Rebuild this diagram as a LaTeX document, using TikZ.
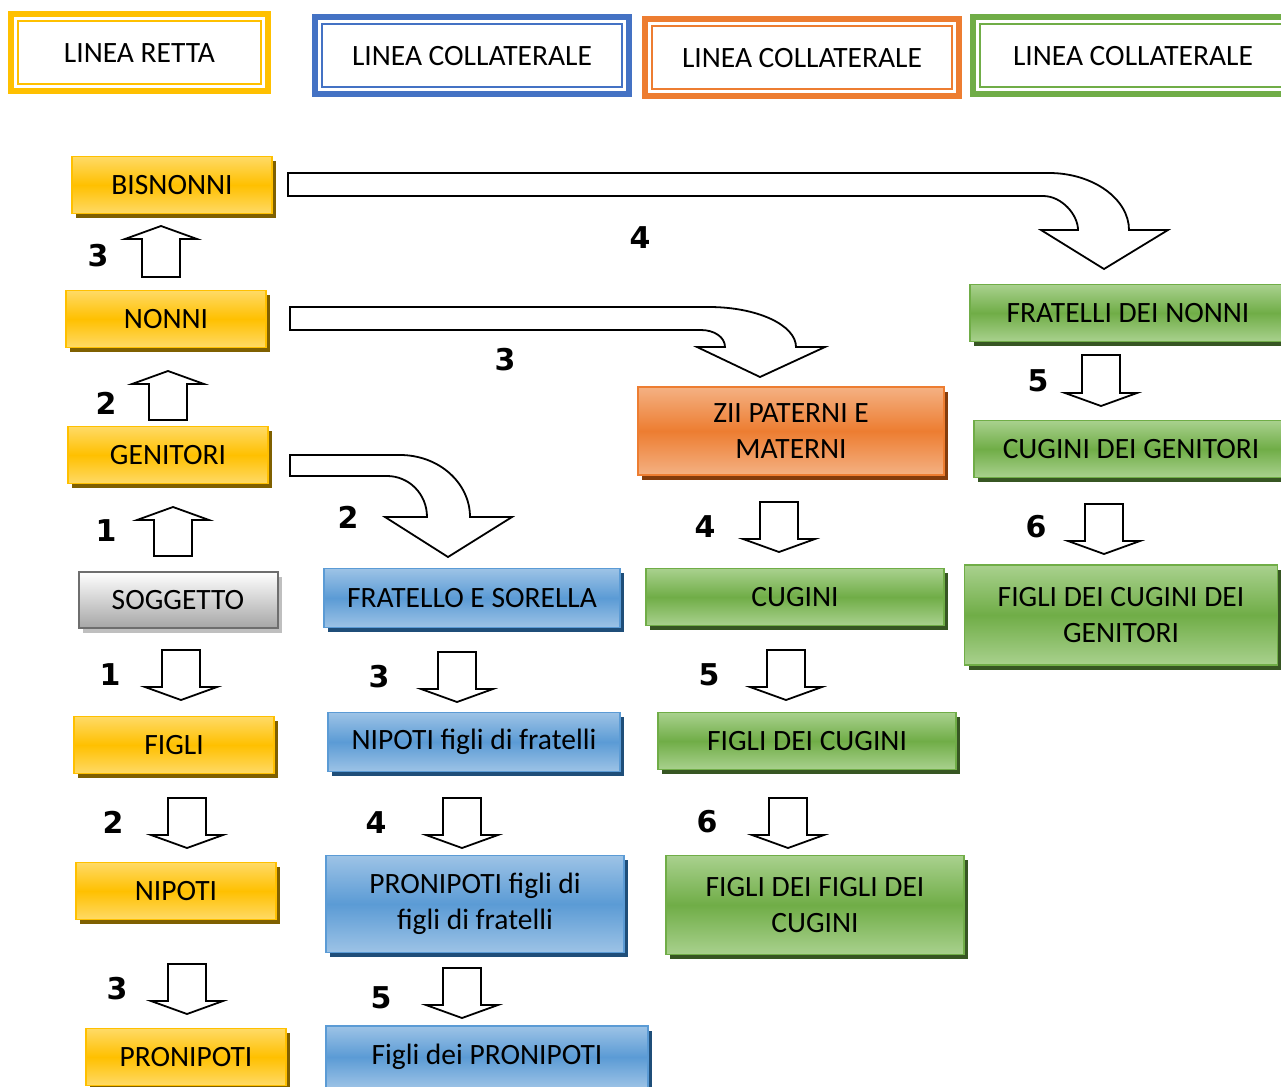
\documentclass[tikz,border=0pt]{standalone}
\usepackage{fontspec}
\setmainfont{Carlito}
\newfontfamily\numfont{DejaVu Sans}
\usetikzlibrary{calc}
\definecolor{yB}{HTML}{FFC000}\definecolor{yL}{HTML}{FFDA66}\definecolor{yM}{HTML}{FFC000}\definecolor{yS}{HTML}{7F6000}
\definecolor{bB}{HTML}{5B9BD5}\definecolor{bL}{HTML}{9DC3E6}\definecolor{bM}{HTML}{5B9BD5}\definecolor{bS}{HTML}{1F4E79}
\definecolor{oB}{HTML}{ED7D31}\definecolor{oL}{HTML}{F4B183}\definecolor{oM}{HTML}{ED7D31}\definecolor{oS}{HTML}{843C0C}
\definecolor{gB}{HTML}{70AD47}\definecolor{gL}{HTML}{A9D18E}\definecolor{gM}{HTML}{70AD47}\definecolor{gS}{HTML}{375623}
\definecolor{hY}{HTML}{FFC000}\definecolor{hB}{HTML}{4472C4}\definecolor{hO}{HTML}{ED7D31}\definecolor{hG}{HTML}{70AD47}
\definecolor{grB}{HTML}{6E6E6E}\definecolor{grS}{HTML}{BFBFBF}
\newcommand\blkdown[4]{\draw[blk] (#1-19,#2) -- (#1+19,#2) -- (#1+19,#3) -- (#1+36,#3) -- (#1,#4) -- (#1-36,#3) -- (#1-19,#3) -- cycle;}
\newcommand\blkup[4]{\draw[blk] (#1-19,#4) -- (#1-19,#3) -- (#1-36,#3) -- (#1,#2) -- (#1+36,#3) -- (#1+19,#3) -- (#1+19,#4) -- cycle;}
\begin{document}
\begin{tikzpicture}[x=1pt,y=-1pt,
  txt/.style={font=\fontsize{29.5}{36}\selectfont, align=center, inner sep=0pt},
  box/.style={txt, draw=#1B, line width=1.5pt, top color=#1L, bottom color=#1L, middle color=#1M,
    preaction={fill=#1S, transform canvas={xshift=4pt,yshift=-4.5pt}}},
  greybox/.style={txt, draw=grB, line width=2pt, top color=white, bottom color=black!35,
    preaction={fill=grS, transform canvas={xshift=4pt,yshift=-4.5pt}}},
  hdr/.style={txt, draw=#1, line width=6pt, fill=white, minimum height=77pt},
  num/.style={font=\numfont\bfseries\fontsize{30}{30}\selectfont, inner sep=0pt},
  blk/.style={draw=black, fill=white, line width=1.8pt, line join=miter},
]
\useasboundingbox (0,0) rectangle (1281,1086);
\clip (0,0) rectangle (1281,1086);
\fill[white] (0,0) rectangle (1281,1086);

% headers
\node[hdr=hY, minimum width=257pt] (h1) at (139.5,53) {LINEA RETTA};
\node[hdr=hB, minimum width=314pt] (h2) at (472,56) {LINEA COLLATERALE};
\node[hdr=hO, minimum width=314pt] (h3) at (802,58) {LINEA COLLATERALE};
\node[hdr=hG, minimum width=320pt] (h4) at (1133,56) {LINEA COLLATERALE};
\foreach \h/\c in {h1/hY,h2/hB,h3/hO,h4/hG}{
  \draw[\c, line width=2pt] ($(\h.north west)+(10,10)$) rectangle ($(\h.south east)+(-10,-10)$);
}

% curved block arrows
\draw[blk] (288,173) -- (1049,173) .. controls (1093,173) and (1129,199) .. (1129,230)
  -- (1168,230) -- (1104,269) -- (1041,230) -- (1078,230)
  .. controls (1078,215) and (1062,196) .. (1043,196) -- (288,196) -- cycle;
\draw[blk] (290,307) -- (709,307) .. controls (757,307) and (796,325) .. (796,347)
  -- (825,347) -- (760,377) -- (697,347) -- (725,347)
  .. controls (725,337) and (714,330) .. (701,330) -- (290,330) -- cycle;
\draw[blk] (290,455) -- (400,455) .. controls (439,455) and (470,483) .. (470,517)
  -- (512,517) -- (448,557) -- (385,517) -- (427,517)
  .. controls (427,494) and (409,476) .. (387,476) -- (290,476) -- cycle;

% straight block arrows
\blkup{161}{226}{239}{277}
\blkup{168}{371}{384}{420}
\blkup{173}{507}{520}{556}
\blkdown{181}{650}{687}{700}
\blkdown{187}{798}{835}{848}
\blkdown{187}{964}{1001}{1014}
\blkdown{457}{652}{689}{702}
\blkdown{462}{798}{835}{848}
\blkdown{462}{968}{1005}{1018}
\blkdown{779}{502}{539}{552}
\blkdown{786}{650}{687}{700}
\blkdown{788}{798}{835}{848}
\blkdown{1101}{355}{393}{406}
\blkdown{1104}{504}{541}{554}

% numbers
\node[num] (l1) at (98,256) {3};
\node[num] (l2) at (106,403) {2};
\node[num] (l3) at (106,531) {1};
\node[num] (l4) at (110,675) {1};
\node[num] (l5) at (113,822) {2};
\node[num] (l6) at (117,989) {3};
\node[num] (l7) at (640,238) {4};
\node[num] (l8) at (505,360) {3};
\node[num] (l9) at (348,517) {2};
\node[num] (l10) at (379,677) {3};
\node[num] (l11) at (376,823) {4};
\node[num] (l12) at (381,998) {5};
\node[num] (l13) at (705,527) {4};
\node[num] (l14) at (709,675) {5};
\node[num] (l15) at (707,822) {6};
\node[num] (l16) at (1038,381) {5};
\node[num] (l17) at (1036,527) {6};

% yellow column
\node[box=y, minimum width=200pt, minimum height=57pt] (bis) at (172,185) {BISNONNI};
\node[box=y, minimum width=200pt, minimum height=57pt] (non) at (166,319) {NONNI};
\node[box=y, minimum width=200pt, minimum height=57pt] (gen) at (168,455) {GENITORI};
\node[greybox, minimum width=199pt, minimum height=56pt] (sog) at (178,600) {SOGGETTO};
\node[box=y, minimum width=200pt, minimum height=57pt] (fig) at (174,745) {FIGLI};
\node[box=y, minimum width=200pt, minimum height=57pt] (nip) at (176,891) {NIPOTI};
\node[box=y, minimum width=200pt, minimum height=57pt] (pron) at (186,1057) {PRONIPOTI};

% blue column
\node[box=b, minimum width=296pt, minimum height=59pt] (fra) at (472,598) {FRATELLO E SORELLA};
\node[box=b, minimum width=292pt, minimum height=59pt] (nipf) at (474,742) {NIPOTI figli di fratelli};
\node[box=b, minimum width=298pt, minimum height=97pt] (pronf) at (475,904) {PRONIPOTI figli di\\figli di fratelli};
\node[box=b, minimum width=322pt, minimum height=62pt] (figp) at (487,1057) {Figli dei PRONIPOTI};

% orange / green column
\node[box=o, minimum width=306pt, minimum height=88pt] (zii) at (791,431) {ZII PATERNI E\\MATERNI};
\node[box=g, minimum width=298pt, minimum height=57pt] (cug) at (795,597) {CUGINI};
\node[box=g, minimum width=298pt, minimum height=57pt] (figc) at (807,741) {FIGLI DEI CUGINI};
\node[box=g, minimum width=298pt, minimum height=99pt] (figfc) at (815,905) {FIGLI DEI FIGLI DEI\\CUGINI};

% right green column
\node[box=g, minimum width=316pt, minimum height=57pt] (fran) at (1128,313) {FRATELLI DEI NONNI};
\node[box=g, minimum width=314pt, minimum height=57pt] (cugg) at (1131,449) {CUGINI DEI GENITORI};
\node[box=g, minimum width=313pt, minimum height=100pt] (figcg) at (1121,615) {FIGLI DEI CUGINI DEI\\GENITORI};
\end{tikzpicture}
\end{document}
